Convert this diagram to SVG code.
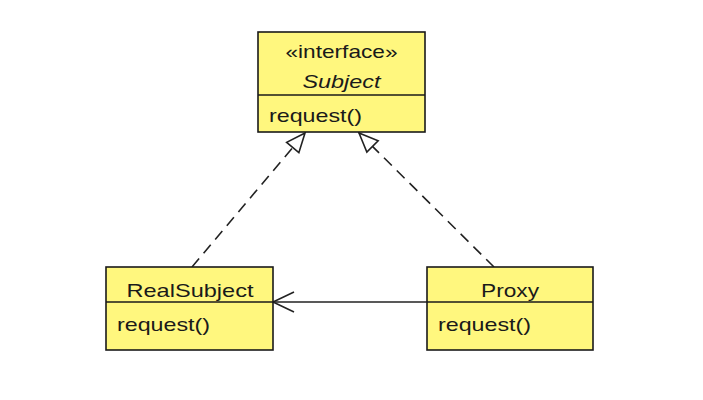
<svg xmlns="http://www.w3.org/2000/svg" width="703" height="400" viewBox="0 0 703 400">
<style>
.box{fill:#fff77e;stroke:#1a1a1a;stroke-width:1.6}
.t{font-family:"Liberation Sans",Arial,sans-serif;font-size:19px;fill:#1a1a1a}
.c{text-anchor:middle}
.dash{stroke:#222;stroke-width:1.6;fill:none;stroke-dasharray:11 7}
.solid{stroke:#222;stroke-width:1.6;fill:none}
</style>
<defs>
<marker id="tri" markerUnits="userSpaceOnUse" markerWidth="24" markerHeight="24" viewBox="-22 -12 24 24" refX="0" refY="0" orient="auto">
<path d="M0,0 L-19,-8 L-19,8 Z" fill="#fff" stroke="#222" stroke-width="1.6" stroke-linejoin="miter"/>
</marker>
<marker id="open" markerUnits="userSpaceOnUse" markerWidth="26" markerHeight="26" viewBox="-24 -13 26 26" refX="0" refY="0" orient="auto">
<path d="M-21,-10 L0,0 L-21,10" fill="none" stroke="#222" stroke-width="1.6"/>
</marker>
</defs>
<rect width="703" height="400" fill="#fff"/>
<g id="connectors">
<line class="dash" x1="192" y1="267" x2="305" y2="133" marker-end="url(#tri)"/>
<line class="dash" x1="494" y1="267" x2="359" y2="133" marker-end="url(#tri)"/>
<line class="solid" x1="427" y1="302" x2="273" y2="302" marker-end="url(#open)"/>
</g>
<g id="Subject">
<rect class="box" x="258" y="32" width="167" height="100"/>
<line class="box" x1="258" y1="95" x2="425" y2="95"/>
<text class="t c" x="341.5" y="58" textLength="112" lengthAdjust="spacingAndGlyphs">«interface»</text>
<text class="t c" x="341.5" y="88" font-style="italic" textLength="78" lengthAdjust="spacingAndGlyphs">Subject</text>
<text class="t" x="269" y="122" textLength="93" lengthAdjust="spacingAndGlyphs">request()</text>
</g>
<g id="RealSubject">
<rect class="box" x="106" y="267" width="167" height="83"/>
<line class="box" x1="106" y1="302" x2="273" y2="302"/>
<text class="t c" x="190" y="297" textLength="127" lengthAdjust="spacingAndGlyphs">RealSubject</text>
<text class="t" x="117" y="331" textLength="93" lengthAdjust="spacingAndGlyphs">request()</text>
</g>
<g id="Proxy">
<rect class="box" x="427" y="267" width="166" height="83"/>
<line class="box" x1="427" y1="302" x2="593" y2="302"/>
<text class="t c" x="510" y="297" textLength="58" lengthAdjust="spacingAndGlyphs">Proxy</text>
<text class="t" x="438" y="331" textLength="93" lengthAdjust="spacingAndGlyphs">request()</text>
</g>
</svg>
